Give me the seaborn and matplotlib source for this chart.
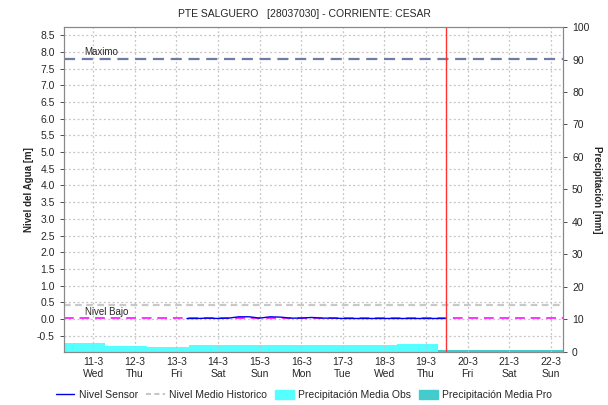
import matplotlib
matplotlib.use('Agg')
import matplotlib.pyplot as plt
import matplotlib.dates as mdates
from matplotlib.lines import Line2D
from matplotlib.patches import Patch
import numpy as np
import pandas as pd
import seaborn as sns

title = 'PTE SALGUERO   [28037030] - CORRIENTE: CESAR'

# nivel del sensor (m), cada 6 horas
sensor_times = ['2020-03-13 06:00', '2020-03-13 12:00', '2020-03-13 18:00',
                '2020-03-14 00:00', '2020-03-14 06:00', '2020-03-14 12:00', '2020-03-14 18:00',
                '2020-03-15 00:00', '2020-03-15 06:00', '2020-03-15 12:00', '2020-03-15 18:00',
                '2020-03-16 00:00', '2020-03-16 06:00', '2020-03-16 12:00', '2020-03-16 18:00',
                '2020-03-17 00:00', '2020-03-17 06:00', '2020-03-17 12:00', '2020-03-17 18:00',
                '2020-03-18 00:00', '2020-03-18 06:00', '2020-03-18 12:00', '2020-03-18 18:00',
                '2020-03-19 00:00', '2020-03-19 06:00', '2020-03-19 11:00']
sensor_values = [0.02, 0.02, 0.03, 0.02, 0.03, 0.07, 0.07, 0.03, 0.07, 0.06, 0.03,
                 0.03, 0.05, 0.03, 0.03, 0.02, 0.02, 0.02, 0.02, 0.02, 0.02, 0.02,
                 0.02, 0.02, 0.02, 0.02]

# precipitacion diaria (mm), dia de 07:00 a 07:00
obs_days = ['2020-03-10 07:00', '2020-03-11 07:00', '2020-03-12 07:00', '2020-03-13 07:00',
            '2020-03-14 07:00', '2020-03-15 07:00', '2020-03-16 07:00', '2020-03-17 07:00',
            '2020-03-18 07:00']
obs_precip = [2.5, 1.75, 1.45, 2.05, 2.05, 2.05, 2.05, 2.05, 2.4]
pro_days = ['2020-03-19 07:00', '2020-03-20 07:00', '2020-03-21 07:00']
pro_precip = [0.55, 0.55, 0.55]

nivel_maximo = 7.8
nivel_bajo = 0.03
nivel_medio = 0.43
now = '2020-03-19 11:20'
x_start, x_end = '2020-03-10 07:00', '2020-03-22 07:00'

sns.set_style('white')
plt.rcParams['font.family'] = ['Liberation Sans', 'DejaVu Sans']

fig = plt.figure(figsize=(6.08, 4.05), dpi=100)
ax = fig.add_axes([0.105, 0.132, 0.821, 0.801])
ax2 = ax.twinx()

# precipitation on the right axis
ax2.bar(pd.to_datetime(obs_days), obs_precip, width=1.0, align='edge',
        color='#55FFFF', linewidth=0)
ax2.bar(pd.to_datetime(pro_days), pro_precip, width=1.0, align='edge',
        color='#44CCCC', linewidth=0)
ax2.set_ylim(0, 100)
ax2.set_yticks(np.arange(0, 101, 10))
ax2.set_ylabel('Precipitación [mm]', fontsize=7, fontweight='bold', rotation=270, labelpad=9)

# levels on the left axis, drawn above the bars
ax.set_zorder(ax2.get_zorder() + 1)
ax.patch.set_visible(False)

ax.axhline(nivel_medio, color='#c8c8c8', ls=(0, (3, 2)), lw=1.6)
ax.axhline(nivel_maximo, color='#6f7ca6', ls=(0, (5, 3)), lw=1.6)
ax.axhline(nivel_bajo, color='#ff33ff', ls=(0, (5, 3)), lw=1.4)
sensor = pd.DataFrame({'t': pd.to_datetime(sensor_times), 'nivel': sensor_values})
sns.lineplot(data=sensor, x='t', y='nivel', ax=ax, color='#0000ee', lw=1.0)
ax.axvline(pd.Timestamp(now), color='#ff3333', lw=1.0)

ax.text(pd.Timestamp('2020-03-10 19:00'), nivel_maximo + 0.05, 'Maximo', fontsize=7, va='bottom')
ax.text(pd.Timestamp('2020-03-10 19:00'), nivel_bajo + 0.03, 'Nivel Bajo', fontsize=7, va='bottom')

ax.set_xlim(pd.Timestamp(x_start), pd.Timestamp(x_end))
ax.set_ylim(-0.97, 8.74)
ax.set_yticks(np.arange(-0.5, 8.51, 0.5))
ax.yaxis.set_major_formatter(matplotlib.ticker.FormatStrFormatter('%.1f'))
ax.xaxis.set_major_locator(mdates.DayLocator())
ax.xaxis.set_major_formatter(matplotlib.ticker.FuncFormatter(
    lambda v, p: f'{mdates.num2date(v).day}-{mdates.num2date(v).month}\n{mdates.num2date(v).strftime("%a")}'))
ax.xaxis.set_minor_locator(mdates.HourLocator(interval=2))
ax.set_xlabel('')
ax.set_ylabel('Nivel del Agua [m]', fontsize=7, fontweight='bold', labelpad=2)

ax.grid(True, which='major', color='#c4c4c4', ls=(0, (1.5, 2)), lw=0.9)
ax.tick_params(axis='both', which='major', labelsize=7.5, length=3, width=0.6, color='#333333')
ax.tick_params(axis='x', which='minor', length=2, width=0.5, color='#555555')
ax.tick_params(axis='x', which='major', length=0, pad=4)
ax2.tick_params(axis='y', labelsize=7.5, length=3, width=0.6, color='#333333')
for a in (ax, ax2):
    for s in a.spines.values():
        s.set_color('#888888')
        s.set_linewidth(0.8)

fig.text(0.5, 0.965, title, ha='center', va='center', fontsize=7.5)

handles = [Line2D([], [], color='#0000ee', lw=1.0),
           Line2D([], [], color='#bbbbbb', ls=(0, (3, 2)), lw=1.2),
           Patch(color='#55FFFF'), Patch(color='#44CCCC')]
labels = ['Nivel Sensor', 'Nivel Medio Historico', 'Precipitación Media Obs', 'Precipitación Media Pro']
fig.legend(handles, labels, loc='center', bbox_to_anchor=(0.5, 0.025), ncol=4, frameon=False,
           fontsize=7.5, handlelength=1.8, handleheight=1.0, handletextpad=0.4, columnspacing=0.8)

fig.savefig('out.png', dpi=100)
